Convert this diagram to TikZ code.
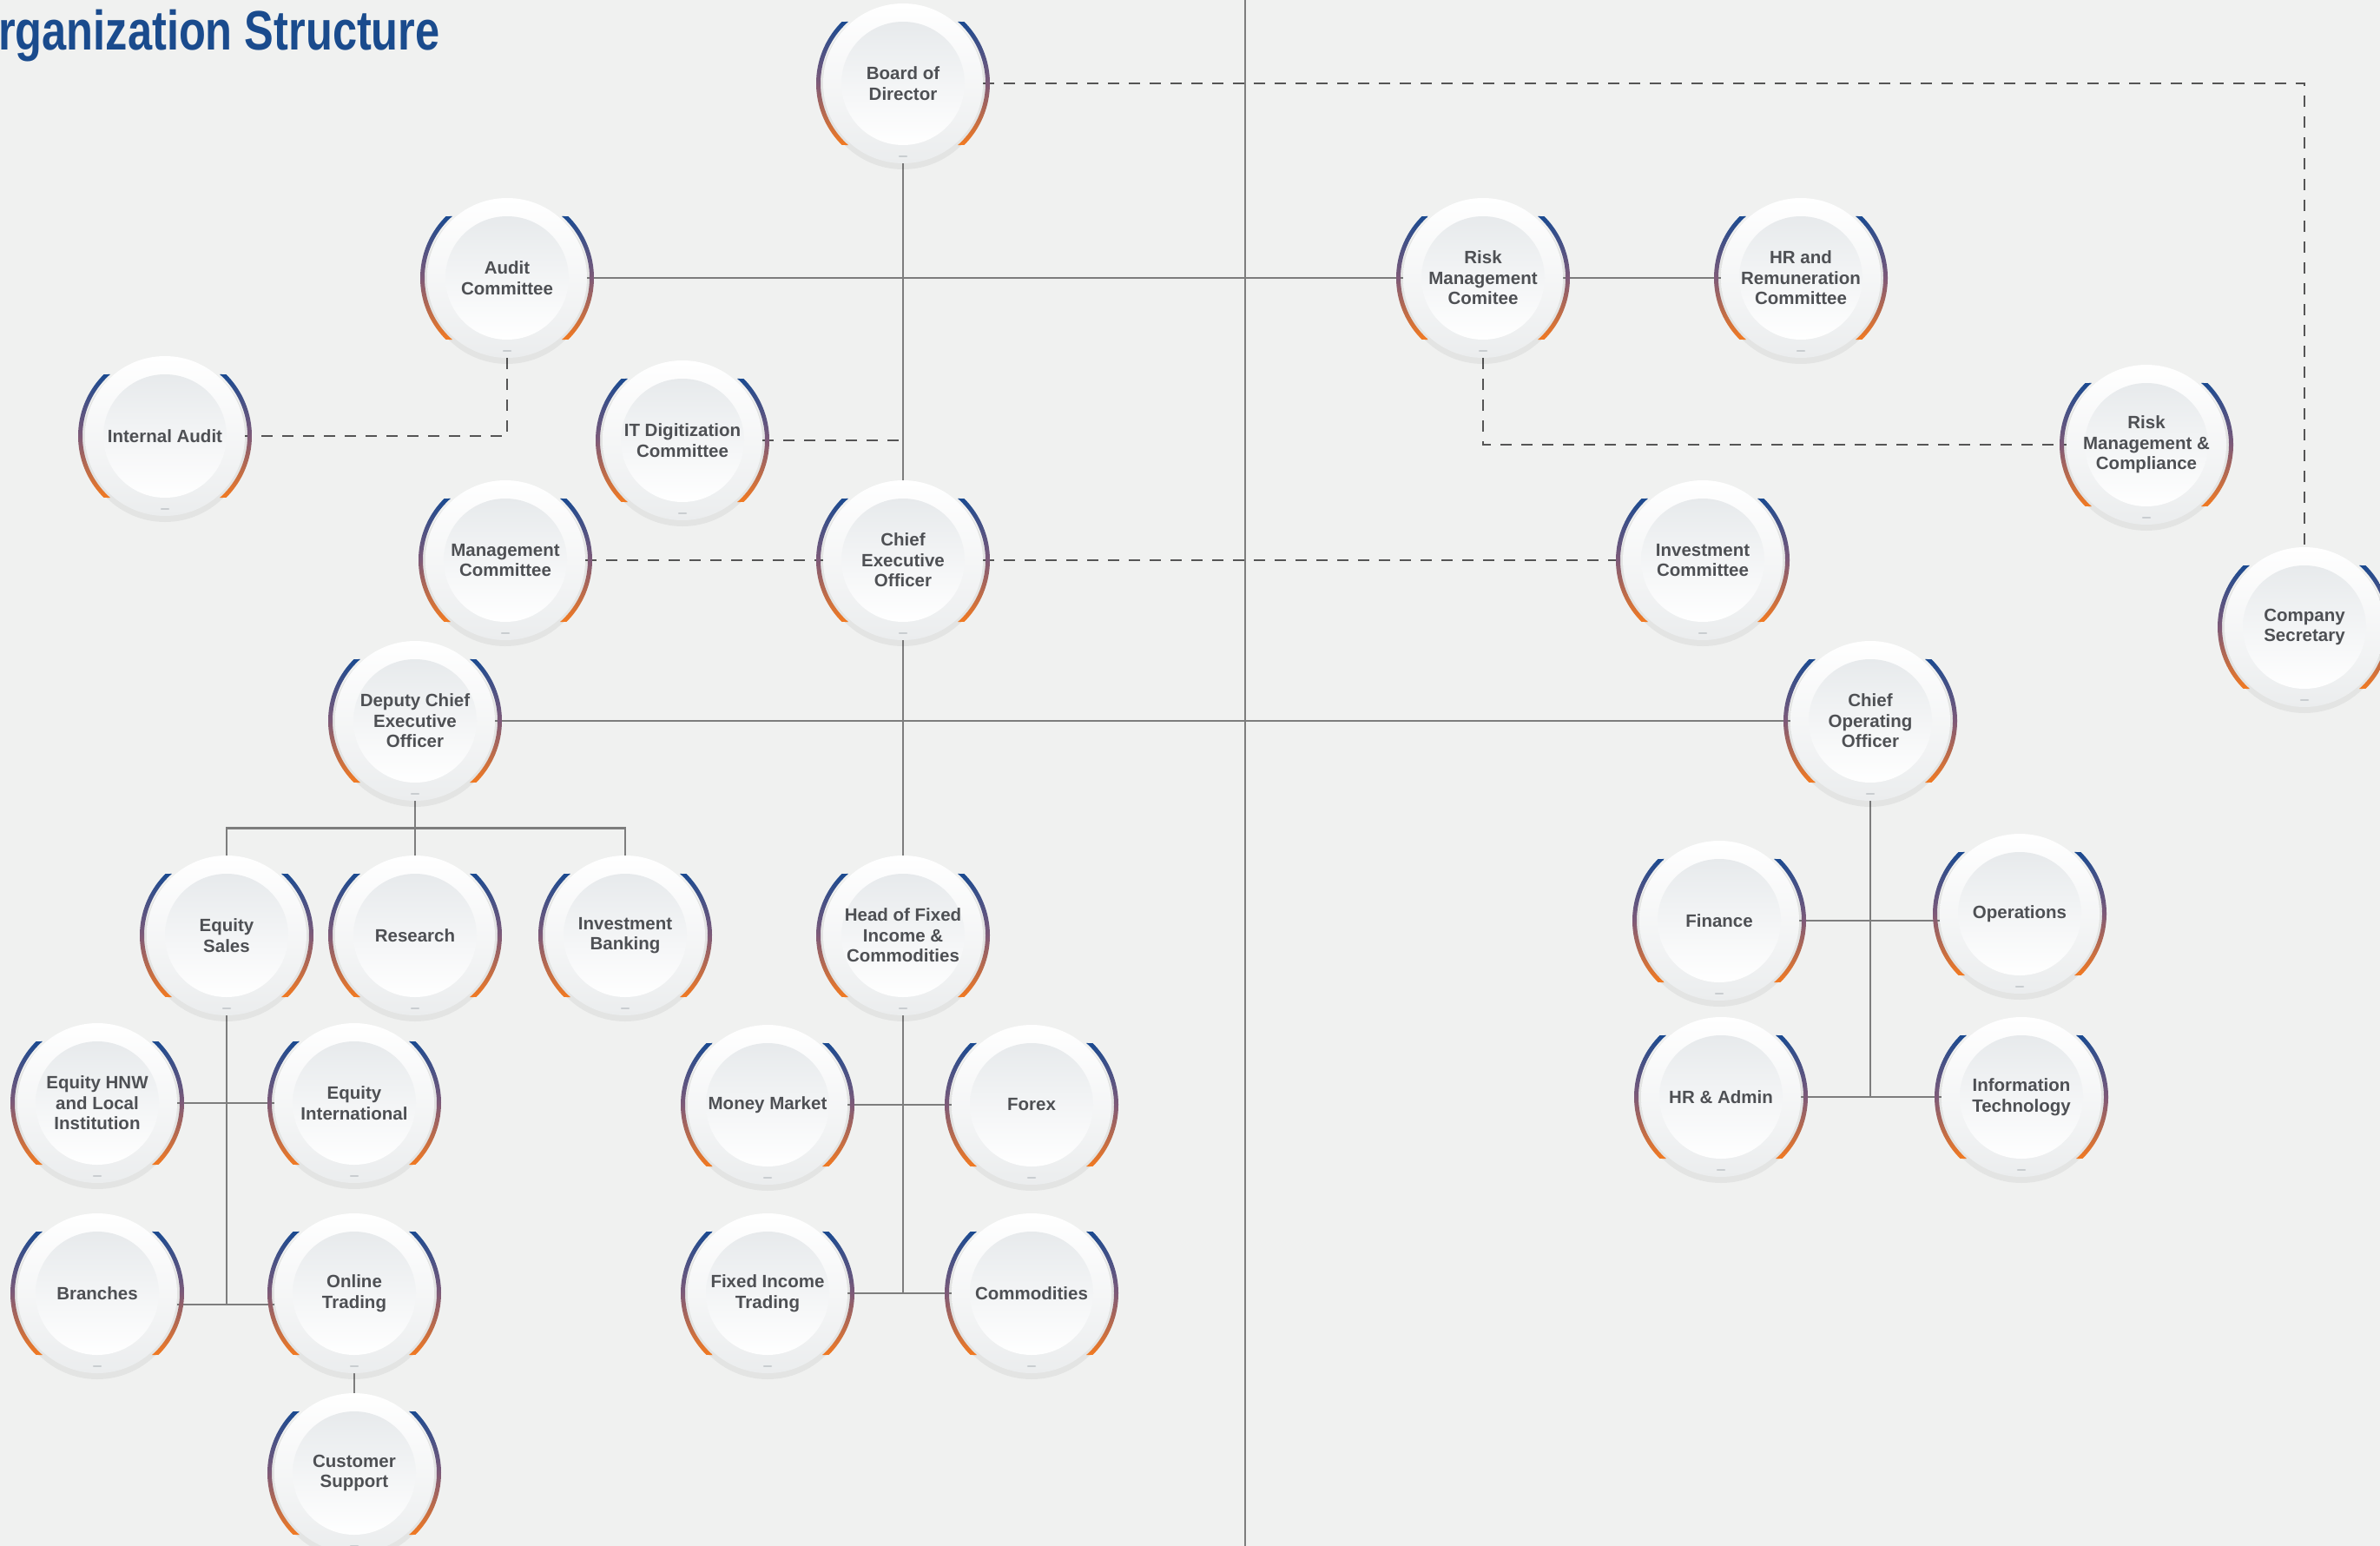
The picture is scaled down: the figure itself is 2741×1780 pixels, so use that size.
\documentclass[tikz,border=0pt]{standalone}
\usepackage{fontspec}
\setmainfont{Liberation Sans}
\usepackage{tikz}
\usetikzlibrary{calc, positioning}
\definecolor{pagegrey}{HTML}{F0F1F0}
\definecolor{linkgrey}{HTML}{7D7D7D}
\definecolor{dashgrey}{HTML}{555555}
\definecolor{ringblue}{HTML}{1B4A90}
\definecolor{ringmauve}{HTML}{7E5A78}
\definecolor{ringorange}{HTML}{F27A22}
\definecolor{titleblue}{HTML}{1A4B8D}
\definecolor{txtgrey}{HTML}{4E5054}
\definecolor{discgrey}{HTML}{EBEDEE}
\definecolor{innergrey}{HTML}{E7EAEC}
\definecolor{nubgrey}{HTML}{C9CDD0}
\pgfdeclarelayer{bg}
\pgfdeclarelayer{links}
\pgfsetlayers{bg,links,main}
\newcommand{\unitfont}{\fontsize{20.5}{23.5}\selectfont\bfseries}
\newcommand{\titlefont}{\fontsize{64}{64}\selectfont\bfseries}
\tikzset{
	unit/.style={circle, minimum size=184pt, inner sep=0pt, align=center, text=txtgrey, font=\unitfont},
	link/.style={draw=linkgrey, line width=2.6pt},
	advisory/.style={draw=dashgrey, line width=2.6pt, dash pattern=on 13pt off 11pt},
	divider/.style={draw=linkgrey, line width=1.6pt},
	ring/.style={top color=ringblue, bottom color=ringorange, middle color=ringmauve}
}
% #1 name, #2 position, #3 label
\newcommand{\orgunit}[3]{%
	\coordinate (#1-c) at (#2);
	\fill[black, opacity=.05] ([yshift=-4pt]#1-c) circle[radius=95pt];
	\shade[ring] ([shift={(131.6:95pt)}]#1-c) arc[start angle=131.6, end angle=228.4, radius=95pt]
		-- ([shift={(225.2:100pt)}]#1-c) arc[start angle=225.2, end angle=134.8, radius=100pt] -- cycle;
	\shade[ring] ([shift={(-48.4:95pt)}]#1-c) arc[start angle=-48.4, end angle=48.4, radius=95pt]
		-- ([shift={(45.2:100pt)}]#1-c) arc[start angle=45.2, end angle=-45.2, radius=100pt] -- cycle;
	\shade[top color=white, bottom color=discgrey] (#1-c) circle[radius=92pt];
	\shade[top color=innergrey, bottom color=white] (#1-c) circle[radius=71pt];
	\draw[nubgrey, line width=2.5pt, line cap=round] ([shift={(-4pt,-84pt)}]#1-c) -- ++(8pt,0pt);
	\node[unit] (#1) at (#1-c) {#3};
}

\begin{document}
\begin{tikzpicture}[x=1pt, y=-1pt]
	\begin{pgfonlayer}{bg}
		\fill[pagegrey] (0,0) rectangle (2741,1780);
	\end{pgfonlayer}
	\useasboundingbox (0,0) rectangle (2741,1780);

	\node[anchor=base west, inner sep=0pt, text=titleblue, font=\titlefont] (title) at (-2,57) {\scalebox{0.79}[1]{rganization Structure}};

	\orgunit{board}{1040,96}{Board of\\Director}
	\orgunit{audit}{584,320}{Audit\\Committee}
	\orgunit{riskcom}{1708,320}{Risk\\Management\\Comitee}
	\orgunit{hrrem}{2074,320}{HR and\\Remuneration\\Committee}
	\orgunit{internal}{190,502}{Internal Audit}
	\orgunit{itdig}{786,507}{IT Digitization\\Committee}
	\orgunit{riskcomp}{2472,512}{Risk\\Management \&\\Compliance}
	\orgunit{mgmt}{582,645}{Management\\Committee}
	\orgunit{ceo}{1040,645}{Chief\\Executive\\Officer}
	\orgunit{invest}{1961,645}{Investment\\Committee}
	\orgunit{secretary}{2654,722}{Company\\Secretary}
	\orgunit{deputy}{478,830}{Deputy Chief\\Executive\\Officer}
	\orgunit{coo}{2154,830}{Chief\\Operating\\Officer}

	\orgunit{eqsales}{261,1077}{Equity\\Sales}
	\orgunit{research}{478,1077}{Research}
	\orgunit{invbank}{720,1077}{Investment\\Banking}
	\orgunit{headfi}{1040,1077}{Head of Fixed\\Income \&\\Commodities}
	\orgunit{finance}{1980,1060}{Finance}
	\orgunit{ops}{2326,1052}{Operations}

	\orgunit{hnw}{112,1270}{Equity HNW\\and Local\\Institution}
	\orgunit{eqintl}{408,1270}{Equity\\International}
	\orgunit{mm}{884,1272}{Money Market}
	\orgunit{forex}{1188,1272}{Forex}
	\orgunit{hradmin}{1982,1263}{HR \& Admin}
	\orgunit{itech}{2328,1263}{Information\\Technology}

	\orgunit{branches}{112,1489}{Branches}
	\orgunit{online}{408,1489}{Online\\Trading}
	\orgunit{fitrading}{884,1489}{Fixed Income\\Trading}
	\orgunit{commod}{1188,1489}{Commodities}
	\orgunit{custsupport}{408,1696}{Customer\\Support}

	\coordinate (branchjoin) at ([yshift=-13pt]branches.east);

	\begin{pgfonlayer}{links}
		\draw[divider] (1434,0) -- (1434,1780);
		\draw[link] (board) -- (ceo);
		\draw[link] (audit) -- (riskcom);
		\draw[link] (riskcom) -- (hrrem);
		\draw[link] (ceo) -- (headfi);
		\draw[link] (deputy) -- (coo);
		\draw[link] (deputy) -- (research);
		\draw[link] (eqsales.north) |- ($(deputy.south)!.5!(research.north)$) -| (invbank.north);
		\draw[link] (eqsales) -- (eqsales |- branchjoin);
		\draw[link] (hnw) -- (eqintl);
		\draw[link] (branchjoin) -- (branchjoin -| online.west);
		\draw[link] (online) -- (custsupport);
		\draw[link] (headfi) -- (headfi |- commod);
		\draw[link] (mm) -- (forex);
		\draw[link] (fitrading) -- (commod);
		\draw[link] (coo) -- (coo |- hradmin);
		\draw[link] (finance) -- (finance -| ops.west);
		\draw[link] (hradmin) -- (itech);

		\draw[advisory] (board) -| (secretary);
		\draw[advisory] (audit) |- (internal);
		\draw[advisory] (itdig) -- (itdig -| board);
		\draw[advisory] (riskcom) |- (riskcomp);
		\draw[advisory] (mgmt) -- (ceo);
		\draw[advisory] (ceo) -- (invest);
	\end{pgfonlayer}
\end{tikzpicture}
\end{document}
